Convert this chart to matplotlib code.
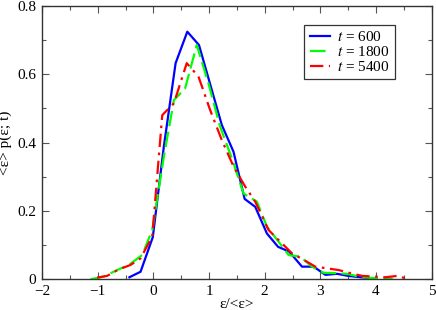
import matplotlib
matplotlib.use("Agg")
import matplotlib.pyplot as plt
from matplotlib.ticker import MultipleLocator

plt.rcParams['font.family'] = ['Liberation Serif', 'DejaVu Serif']
plt.rcParams['mathtext.fontset'] = 'stix'

x600 = [-0.43, -0.23, -0.01, 0.19, 0.40, 0.61, 0.82, 1.03, 1.23, 1.44, 1.64, 1.83, 2.04, 2.24, 2.44, 2.67, 2.88, 3.09, 3.30, 3.50, 3.72, 3.93]
y600 = [0.006, 0.022, 0.123, 0.39, 0.632, 0.724, 0.685, 0.565, 0.451, 0.373, 0.235, 0.212, 0.134, 0.095, 0.081, 0.037, 0.037, 0.013, 0.016, 0.010, 0.006, 0.003]

x1800 = [-1.13, -0.89, -0.65, -0.44, -0.20, -0.02, 0.19, 0.37, 0.57, 0.78, 0.99, 1.20, 1.41, 1.62, 1.86, 2.04, 2.25, 2.43, 2.64, 2.85, 3.06, 3.27, 3.48, 3.69, 3.90, 4.10, 4.30]
y1800 = [0.0, 0.008, 0.027, 0.042, 0.071, 0.144, 0.36, 0.524, 0.558, 0.685, 0.573, 0.446, 0.354, 0.251, 0.227, 0.154, 0.110, 0.071, 0.066, 0.037, 0.019, 0.018, 0.016, 0.008, 0.004, 0.003, 0.002]

x5400 = [-1.01, -0.83, -0.62, -0.41, -0.23, -0.02, 0.16, 0.37, 0.60, 0.81, 1.02, 1.23, 1.44, 1.65, 1.83, 2.07, 2.28, 2.49, 2.70, 2.91, 3.12, 3.33, 3.54, 3.75, 3.96, 4.17, 4.38, 4.53]
y5400 = [0.005, 0.010, 0.029, 0.042, 0.061, 0.125, 0.48, 0.515, 0.632, 0.593, 0.495, 0.407, 0.330, 0.271, 0.227, 0.144, 0.110, 0.076, 0.057, 0.037, 0.032, 0.027, 0.018, 0.010, 0.008, 0.006, 0.010, 0.003]

labels = ['$t$ = 600', '$t$ = 1800', '$t$ = 5400']
xticks = [-2, -1, 0, 1, 2, 3, 4, 5]
xticklabels = ['−2', '−1', '0', '1', '2', '3', '4', '5']
yticks = [0, 0.2, 0.4, 0.6, 0.8]
yticklabels = ['0', '0.2', '0.4', '0.6', '0.8']

fig = plt.figure(figsize=(4.36, 3.10), dpi=100)
ax = fig.add_axes([42/436, 1 - 279.3/310, (431.7 - 42)/436, (279.3 - 5.7)/310])

ax.plot(x600, y600, color='#0000ff', lw=1.6, ls='-', label=labels[0])
ax.plot(x1800, y1800, color='#00ff00', lw=1.6, ls=(0, (7, 2.5)), label=labels[1])
ax.plot(x5400, y5400, color='#ff0000', lw=1.6, ls=(0, (6, 2.5, 1.2, 2.5)), label=labels[2])

ax.set_xlim(-2, 5)
ax.set_ylim(0, 0.8)
ax.set_xticks(xticks)
ax.set_xticklabels(xticklabels)
ax.set_yticks(yticks)
ax.set_yticklabels(yticklabels)
ax.xaxis.set_minor_locator(MultipleLocator(0.5))
ax.yaxis.set_minor_locator(MultipleLocator(0.1))
ax.tick_params(which='both', direction='in', top=True, right=True, labelsize=11)
ax.tick_params(axis='x', pad=4)
ax.tick_params(axis='y', pad=4)
ax.tick_params(which='major', length=5, width=0.8, color='#555555')
ax.tick_params(which='minor', length=3, width=0.8, color='#555555')
for s in ax.spines.values():
    s.set_linewidth(1.0)
    s.set_color('#333333')

ax.set_xlabel('ε/<ε>', fontsize=11, labelpad=0)
ax.set_ylabel('<ε> p(ε; t)', fontsize=11, labelpad=0)
ax.yaxis.set_label_coords(-30 / (431.7 - 42), 0.5)

leg = ax.legend(fontsize=11, frameon=True, fancybox=False, edgecolor='black',
                handlelength=1.3, borderpad=0.35, labelspacing=0.05, handletextpad=0.5,
                loc='upper right', bbox_to_anchor=((395 - 42) / (431.7 - 42), 1 - (25 - 5.7) / (279.3 - 5.7)),
                borderaxespad=0)
leg.get_frame().set_linewidth(0.9)

fig.savefig('out.png', dpi=100)
